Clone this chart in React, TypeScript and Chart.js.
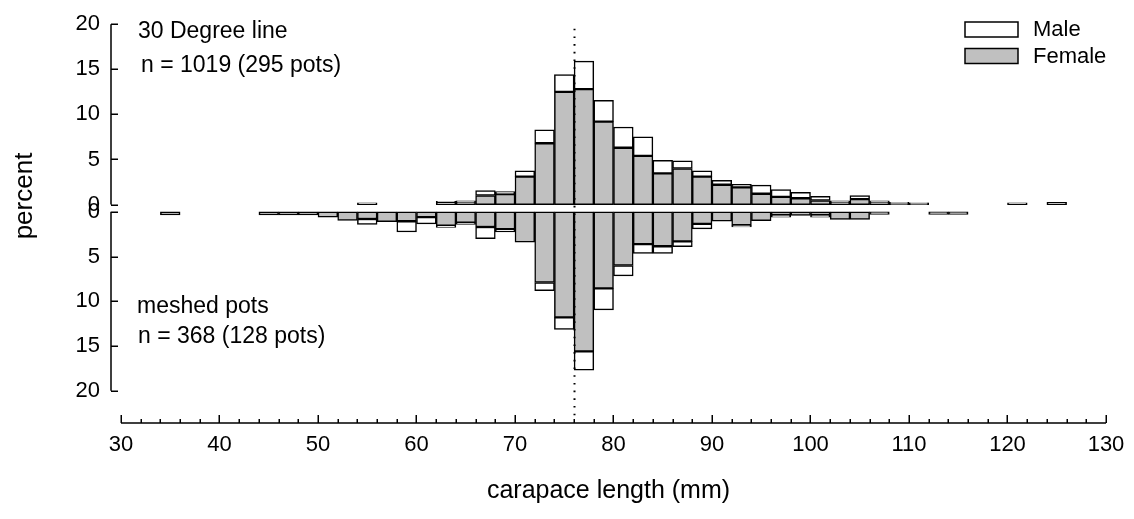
import React, { useEffect, useRef } from 'react';
import { Chart, registerables } from 'chart.js';

Chart.register(...registerables);

// bin centres (2 mm bins), carapace length (mm)
const binCenters = [35, 37, 39, 41, 43, 45, 47, 49, 51, 53, 55, 57, 59, 61, 63, 65, 67, 69, 71, 73, 75, 77, 79, 81, 83, 85, 87, 89, 91, 93, 95, 97, 99, 101, 103, 105, 107, 109, 111, 113, 115, 117, 119, 121, 123, 125];

// 30 Degree line (upper half), percent
const degreeFemale = [0, 0, 0, 0, 0, 0, 0, 0, 0, 0, 0.2, 0, 0, 0, 0.25, 0.3, 1.0, 1.15, 3.1, 6.8, 12.5, 12.8, 9.2, 6.3, 5.4, 3.45, 4.0, 3.1, 2.2, 1.9, 1.2, 0.85, 0.7, 0.45, 0.3, 0.6, 0.3, 0.15, 0.15, 0, 0, 0, 0, 0.2, 0, 0.25];
const degreeMale = [0, 0, 0, 0, 0, 0, 0, 0, 0, 0, 0, 0, 0, 0, 0.1, 0.1, 0.55, 0.3, 0.65, 1.5, 1.9, 3.1, 2.35, 2.3, 2.1, 1.45, 0.85, 0.65, 0.5, 0.35, 0.95, 0.8, 0.65, 0.45, 0.1, 0.4, 0.1, 0.1, 0.05, 0, 0, 0, 0, 0, 0, 0];

// meshed pots (lower half), percent
const meshedFemale = [0.35, 0, 0, 0, 0, 0.35, 0.35, 0.35, 0.6, 0.95, 0.8, 1.1, 1.05, 0.6, 1.55, 1.2, 1.7, 1.95, 3.4, 7.9, 11.8, 15.6, 8.55, 6.0, 3.6, 3.85, 3.3, 1.35, 1.05, 1.5, 1.0, 0.35, 0.4, 0.35, 0.85, 0.85, 0.3, 0, 0, 0.3, 0.3, 0, 0, 0, 0, 0];
const meshedMale = [0, 0, 0, 0, 0, 0, 0, 0, 0, 0, 0.6, 0, 1.2, 0.75, 0.2, 0.2, 1.3, 0.3, 0, 0.9, 1.35, 2.1, 2.4, 1.15, 1.05, 0.8, 0.6, 0.55, 0, 0.2, 0, 0.25, 0, 0.25, 0, 0, 0, 0, 0, 0, 0, 0, 0, 0, 0, 0];

const xTickValues = [30, 40, 50, 60, 70, 80, 90, 100, 110, 120, 130];
const xMinorStep = 2;
const yTickValues = [0, 5, 10, 15, 20];
const referenceLength = 76;

const seriesLabels = ['Female', 'Male'];
const upperTitle = ['30 Degree line', 'n = 1019 (295 pots)'];
const lowerTitle = ['meshed pots', 'n = 368 (128 pots)'];
const xTitle = 'carapace length (mm)';
const yTitle = 'percent';

const FONT = '"Liberation Sans", Arial, Helvetica, sans-serif';
const GRAY = '#c0c0c0';

function toPoints(vals: number[]) {
  return binCenters.map((x, i) => ({ x, y: vals[i] })).filter((p) => p.y > 0);
}

const decorPlugin = {
  id: 'decor',
  afterDatasetsDraw(chart: any) {
    const { ctx, chartArea, scales } = chart;
    const xs = scales.x;
    const yt = scales.yTop;
    const yb = scales.yBot;
    ctx.save();
    ctx.strokeStyle = '#000';
    ctx.fillStyle = '#000';
    ctx.lineWidth = 1.5;

    // dotted reference line
    const rx = Math.round(xs.getPixelForValue(referenceLength)) + 0.5;
    ctx.save();
    ctx.setLineDash([1.6, 6.1]);
    ctx.lineWidth = 2;
    ctx.beginPath();
    ctx.moveTo(rx, yt.getPixelForValue(19.5));
    ctx.lineTo(rx, chartArea.bottom - 2);
    ctx.stroke();
    ctx.restore();

    // x axis line and ticks (pointing up)
    const xb = chartArea.bottom;
    const x0 = xs.getPixelForValue(xTickValues[0]);
    const x1 = xs.getPixelForValue(xTickValues[xTickValues.length - 1]);
    ctx.beginPath();
    ctx.moveTo(x0, xb);
    ctx.lineTo(x1, xb);
    for (let v = xTickValues[0]; v <= xTickValues[xTickValues.length - 1]; v += xMinorStep) {
      const px = Math.round(xs.getPixelForValue(v)) + 0.25;
      const len = v % 10 === 0 ? 8 : 4;
      ctx.moveTo(px, xb);
      ctx.lineTo(px, xb - len);
    }
    ctx.stroke();

    // y axes (ticks pointing right)
    const ax = chartArea.left;
    [yt, yb].forEach((s: any) => {
      ctx.beginPath();
      ctx.moveTo(ax, s.getPixelForValue(0));
      ctx.lineTo(ax, s.getPixelForValue(20));
      yTickValues.forEach((v) => {
        const py = Math.round(s.getPixelForValue(v)) + 0.25;
        ctx.moveTo(ax, py);
        ctx.lineTo(ax + 7, py);
      });
      ctx.stroke();
    });

    // annotations
    ctx.font = `23px ${FONT}`;
    ctx.textBaseline = 'middle';
    ctx.textAlign = 'left';
    ctx.fillText(upperTitle[0], 138, 32);
    ctx.fillText(upperTitle[1], 141, 66);
    ctx.fillText(lowerTitle[0], 137, 307);
    ctx.fillText(lowerTitle[1], 138, 337);

    // legend
    ctx.font = `22px ${FONT}`;
    const ds = chart.data.datasets;
    const rows = [ds[1], ds[0]];
    rows.forEach((d: any, i: number) => {
      const by = 22 + i * 26.5;
      ctx.fillStyle = d.backgroundColor;
      ctx.fillRect(965, by, 53, 15);
      ctx.lineWidth = 1.5;
      ctx.strokeStyle = '#000';
      ctx.strokeRect(965, by, 53, 15);
      ctx.fillStyle = '#000';
      ctx.fillText(d.label, 1033, by + 8);
    });

    // y title
    ctx.save();
    ctx.font = `26px ${FONT}`;
    ctx.translate(25, 196);
    ctx.rotate(-Math.PI / 2);
    ctx.textAlign = 'center';
    ctx.fillText(yTitle, 0, 0);
    ctx.restore();

    ctx.restore();
  },
};

export default function App() {
  const ref = useRef<HTMLCanvasElement | null>(null);

  useEffect(() => {
    document.body.style.margin = '0';
    const canvas = ref.current;
    if (!canvas) return;
    const barCommon = {
      borderColor: '#000',
      borderWidth: 1.5,
      borderSkipped: false,
      grouped: false,
      barPercentage: 1,
      categoryPercentage: 1,
    };
    const tickFont = { family: FONT, size: 22 };
    const yCommon = {
      type: 'linear',
      position: 'left',
      stack: 'pct',
      stacked: true,
      grid: { display: false, drawTicks: false },
      border: { display: false },
      afterBuildTicks: (s: any) => {
        s.ticks = yTickValues.map((v) => ({ value: v }));
      },
      ticks: { font: tickFont, color: '#000', padding: 11, autoSkip: false },
      afterFit: (s: any) => {
        s.width = 111;
      },
    };
    const chart = new Chart(canvas, {
      type: 'bar',
      data: {
        datasets: [
          { ...barCommon, label: seriesLabels[0], data: toPoints(degreeFemale), backgroundColor: GRAY, yAxisID: 'yTop', stack: 'up' },
          { ...barCommon, label: seriesLabels[1], data: toPoints(degreeMale), backgroundColor: '#ffffff', yAxisID: 'yTop', stack: 'up' },
          { ...barCommon, label: seriesLabels[0], data: toPoints(meshedFemale), backgroundColor: GRAY, yAxisID: 'yBot', stack: 'down' },
          { ...barCommon, label: seriesLabels[1], data: toPoints(meshedMale), backgroundColor: '#ffffff', yAxisID: 'yBot', stack: 'down' },
        ],
      } as any,
      options: {
        animation: false,
        responsive: false,
        maintainAspectRatio: false,
        layout: { padding: { top: 15, right: 28, bottom: 0, left: 0 } },
        plugins: { legend: { display: false }, tooltip: { enabled: false }, title: { display: false } },
        scales: {
          x: {
            type: 'linear',
            min: 28.985,
            max: 130,
            offset: false,
            stacked: true,
            grid: { display: false, drawTicks: false, offset: false },
            border: { display: false },
            afterBuildTicks: (s: any) => {
              s.ticks = xTickValues.map((v) => ({ value: v }));
            },
            ticks: { font: tickFont, color: '#000', padding: 9, maxRotation: 0, autoSkip: false },
            title: { display: true, text: xTitle, font: { family: FONT, size: 25 }, color: '#000', padding: { top: 0, bottom: 13 } },
            afterFit: (s: any) => {
              s.height = 96;
            },
          },
          yTop: { ...yCommon, min: -0.41, max: 20, stackWeight: 188.3, weight: 2 },
          yBot: { ...yCommon, min: -0.4, max: 23.6, reverse: true, stackWeight: 219.7, weight: 1 },
        } as any,
      },
      plugins: [decorPlugin],
    });
    return () => chart.destroy();
  }, []);

  return <canvas ref={ref} width={1134} height={519} style={{ display: 'block' }} />;
}
